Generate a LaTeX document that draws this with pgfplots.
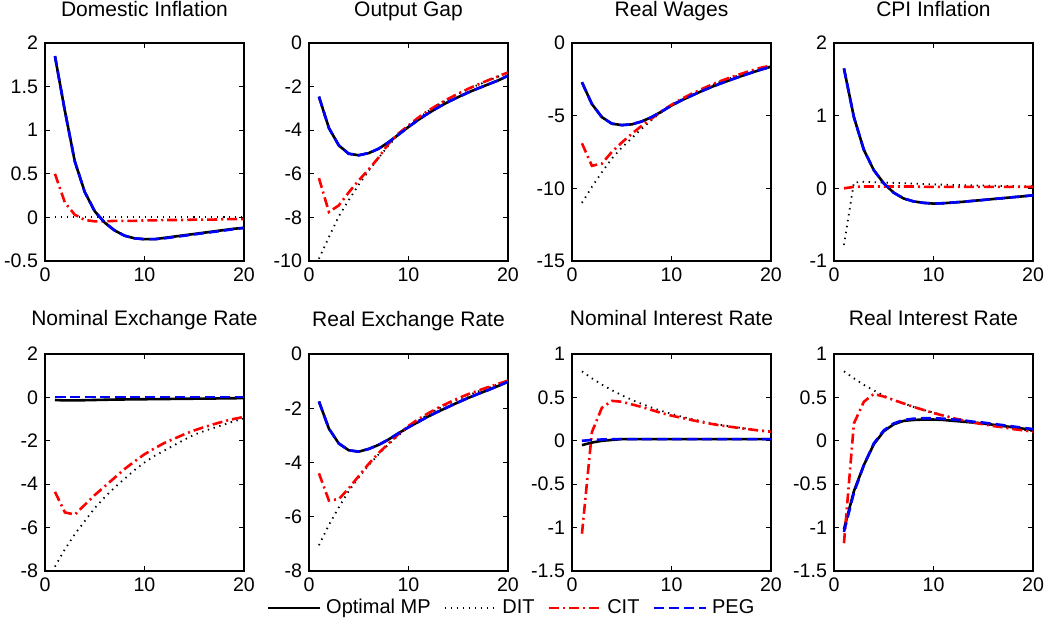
\documentclass[border=0pt]{standalone}
\usepackage{fontspec}
\setmainfont{Liberation Sans}
\usepackage{pgfplots}
\usepackage{pgfplotstable}
\pgfplotsset{compat=1.18}

\pgfplotstableread{
x opt dit cit peg
1 1.85 0 0.50 1.85
2 1.22 0 0.17 1.22
3 0.64 0 0.03 0.64
4 0.29 0 -0.03 0.29
5 0.07 0 -0.045 0.07
6 -0.06 0 -0.045 -0.06
7 -0.15 0 -0.04 -0.15
8 -0.21 0 -0.04 -0.21
9 -0.24 0 -0.04 -0.24
10 -0.25 0 -0.035 -0.25
11 -0.25 0 -0.035 -0.25
12 -0.235 0 -0.03 -0.24
13 -0.22 0 -0.03 -0.225
14 -0.205 0 -0.03 -0.21
15 -0.19 0 -0.025 -0.195
16 -0.175 0 -0.025 -0.18
17 -0.16 0 -0.025 -0.165
18 -0.145 0 -0.02 -0.15
19 -0.13 0 -0.02 -0.135
20 -0.12 0 -0.02 -0.12
}\tabA

\pgfplotstableread{
x opt dit cit peg
1 -2.46 -9.9 -6.2 -2.46
2 -3.9 -8.9 -7.75 -3.9
3 -4.7 -7.95 -7.45 -4.7
4 -5.08 -7.2 -6.85 -5.08
5 -5.15 -6.5 -6.3 -5.15
6 -5.05 -5.86 -5.8 -5.05
7 -4.85 -5.27 -5.25 -4.85
8 -4.55 -4.7 -4.62 -4.55
9 -4.2 -4.2 -4.15 -4.2
10 -3.85 -3.8 -3.78 -3.85
11 -3.52 -3.45 -3.42 -3.52
12 -3.22 -3.12 -3.1 -3.22
13 -2.95 -2.83 -2.82 -2.95
14 -2.7 -2.57 -2.56 -2.7
15 -2.48 -2.33 -2.32 -2.48
16 -2.27 -2.12 -2.1 -2.27
17 -2.08 -1.92 -1.9 -2.08
18 -1.9 -1.73 -1.71 -1.9
19 -1.72 -1.55 -1.53 -1.72
20 -1.5 -1.35 -1.35 -1.5
}\tabB

\pgfplotstableread{
x opt dit cit peg
1 -2.7 -11.0 -6.9 -2.7
2 -4.2 -9.9 -8.45 -4.2
3 -5.1 -8.9 -8.3 -5.1
4 -5.55 -7.95 -7.5 -5.55
5 -5.65 -7.2 -6.85 -5.65
6 -5.6 -6.55 -6.25 -5.6
7 -5.4 -5.9 -5.7 -5.4
8 -5.1 -5.3 -5.2 -5.1
9 -4.72 -4.75 -4.7 -4.72
10 -4.3 -4.28 -4.25 -4.3
11 -3.95 -3.88 -3.85 -3.95
12 -3.63 -3.53 -3.5 -3.63
13 -3.32 -3.22 -3.18 -3.32
14 -3.03 -2.92 -2.88 -3.03
15 -2.77 -2.65 -2.6 -2.77
16 -2.52 -2.4 -2.35 -2.52
17 -2.28 -2.17 -2.12 -2.28
18 -2.05 -1.95 -1.9 -2.05
19 -1.83 -1.75 -1.7 -1.83
20 -1.63 -1.58 -1.55 -1.63
}\tabC

\pgfplotstableread{
x opt dit cit peg
1 1.65 -0.78 0.0 1.65
2 0.98 0.08 0.02 0.98
3 0.53 0.09 0.025 0.53
4 0.25 0.085 0.025 0.25
5 0.07 0.08 0.025 0.07
6 -0.06 0.075 0.025 -0.06
7 -0.14 0.07 0.025 -0.14
8 -0.18 0.065 0.025 -0.18
9 -0.2 0.06 0.02 -0.2
10 -0.21 0.055 0.02 -0.21
11 -0.205 0.05 0.02 -0.205
12 -0.195 0.047 0.02 -0.195
13 -0.185 0.044 0.02 -0.185
14 -0.172 0.041 0.02 -0.172
15 -0.16 0.038 0.02 -0.16
16 -0.147 0.035 0.02 -0.147
17 -0.135 0.033 0.02 -0.135
18 -0.122 0.031 0.02 -0.122
19 -0.11 0.029 0.02 -0.11
20 -0.095 0.027 0.02 -0.095
}\tabD

\pgfplotstableread{
x opt dit cit peg
1 -0.12 -7.8 -4.35 0.02
2 -0.14 -7.0 -5.3 0.02
3 -0.14 -6.3 -5.4 0.02
4 -0.13 -5.7 -4.95 0.02
5 -0.12 -5.1 -4.5 0.02
6 -0.11 -4.6 -4.1 0.02
7 -0.1 -4.15 -3.7 0.02
8 -0.095 -3.75 -3.3 0.02
9 -0.09 -3.35 -2.95 0.02
10 -0.085 -3.0 -2.62 0.02
11 -0.08 -2.7 -2.35 0.02
12 -0.075 -2.45 -2.1 0.02
13 -0.07 -2.2 -1.9 0.02
14 -0.065 -1.95 -1.7 0.02
15 -0.06 -1.72 -1.52 0.02
16 -0.055 -1.55 -1.37 0.02
17 -0.05 -1.4 -1.23 0.02
18 -0.045 -1.25 -1.1 0.02
19 -0.04 -1.1 -0.99 0.02
20 -0.03 -0.97 -0.9 0.02
}\tabE

\pgfplotstableread{
x opt dit cit peg
1 -1.75 -7.05 -4.4 -1.75
2 -2.75 -6.3 -5.4 -2.75
3 -3.3 -5.65 -5.35 -3.3
4 -3.55 -5.05 -4.95 -3.55
5 -3.6 -4.55 -4.5 -3.6
6 -3.5 -4.1 -4.05 -3.5
7 -3.35 -3.7 -3.65 -3.35
8 -3.15 -3.33 -3.3 -3.15
9 -2.92 -3.0 -2.95 -2.92
10 -2.7 -2.7 -2.65 -2.7
11 -2.5 -2.45 -2.4 -2.5
12 -2.3 -2.22 -2.18 -2.3
13 -2.12 -2.02 -1.98 -2.12
14 -1.95 -1.84 -1.8 -1.95
15 -1.78 -1.67 -1.63 -1.78
16 -1.62 -1.52 -1.48 -1.62
17 -1.47 -1.38 -1.35 -1.47
18 -1.33 -1.25 -1.22 -1.33
19 -1.18 -1.12 -1.1 -1.18
20 -1.02 -1.0 -0.98 -1.02
}\tabF

\pgfplotstableread{
x opt dit cit peg
1 -0.05 0.8 -1.07 0.0
2 -0.02 0.72 0.1 0.01
3 0.0 0.648 0.38 0.015
4 0.01 0.583 0.46 0.02
5 0.02 0.525 0.45 0.02
6 0.02 0.472 0.42 0.02
7 0.02 0.425 0.39 0.02
8 0.02 0.383 0.355 0.02
9 0.02 0.344 0.32 0.02
10 0.02 0.31 0.29 0.02
11 0.02 0.279 0.265 0.02
12 0.02 0.251 0.24 0.02
13 0.02 0.226 0.215 0.02
14 0.02 0.203 0.195 0.02
15 0.02 0.183 0.175 0.02
16 0.02 0.165 0.16 0.02
17 0.02 0.148 0.145 0.02
18 0.02 0.133 0.13 0.02
19 0.02 0.12 0.115 0.02
20 0.02 0.108 0.105 0.02
}\tabG

\pgfplotstableread{
x opt dit cit peg
1 -1.02 0.8 -1.18 -1.05
2 -0.58 0.72 0.2 -0.6
3 -0.28 0.645 0.45 -0.28
4 -0.04 0.58 0.54 -0.03
5 0.11 0.52 0.51 0.12
6 0.19 0.47 0.47 0.2
7 0.23 0.43 0.43 0.24
8 0.24 0.39 0.39 0.255
9 0.245 0.355 0.355 0.26
10 0.245 0.325 0.32 0.26
11 0.24 0.295 0.29 0.255
12 0.23 0.265 0.26 0.245
13 0.22 0.24 0.235 0.235
14 0.21 0.215 0.21 0.22
15 0.2 0.195 0.19 0.21
16 0.185 0.175 0.17 0.195
17 0.17 0.16 0.155 0.18
18 0.155 0.14 0.135 0.165
19 0.14 0.125 0.12 0.15
20 0.125 0.11 0.105 0.135
}\tabH

\pgfplotsset{
  irf/.style={
    scale only axis, width=99.5pt, anchor=south west,
    xmin=0, xmax=20, xtick={0,10,20},
    tick align=inside, major tick length=2.5pt,
    axis line style={line width=0.6pt},
    every tick/.style={black, line width=0.5pt},
    ticklabel style={font=\fontsize{9.8}{11}\selectfont},
    /pgf/number format/assume math mode=true,
    scaled y ticks=false,
    yticklabel style={/pgf/number format/fixed},
    title style={font=\fontsize{10.5}{12}\selectfont, at={(0.5,1)}, anchor=base},
  },
  toprow/.style={height=109pt, title style={yshift=7pt}},
  botrow/.style={height=108.5pt, title style={yshift=8pt}},
  opt/.style={black, line width=1.3pt},
  dit/.style={black, line width=0.9pt, dash pattern=on 0.7pt off 2.3pt},
  cit/.style={red, line width=1.3pt, dash pattern=on 5pt off 2pt on 1pt off 2pt},
  peg/.style={blue, line width=1.3pt, dash pattern=on 5pt off 2.5pt},
}

\newcommand\fourlines[1]{%
  \addplot[opt] table[x=x,y=opt]{#1};
  \addplot[dit] table[x=x,y=dit]{#1};
  \addplot[cit] table[x=x,y=cit]{#1};
  \addplot[peg] table[x=x,y=peg]{#1};
}

\begin{document}
\begin{tikzpicture}
\useasboundingbox (0,0) rectangle (523pt,-315pt);

% top row
\begin{axis}[irf, toprow, at={(22.5pt,-130.5pt)}, title={Domestic Inflation},
  ymin=-0.5, ymax=2, ytick={-0.5,0,0.5,1,1.5,2}]
\fourlines{\tabA}
\end{axis}
\begin{axis}[irf, toprow, at={(154.5pt,-130.5pt)}, title={Output Gap},
  ymin=-10, ymax=0, ytick={-10,-8,-6,-4,-2,0}]
\fourlines{\tabB}
\end{axis}
\begin{axis}[irf, toprow, at={(286pt,-130.5pt)}, title={Real Wages},
  ymin=-15, ymax=0, ytick={-15,-10,-5,0}]
\fourlines{\tabC}
\end{axis}
\begin{axis}[irf, toprow, at={(417pt,-130.5pt)}, title={CPI Inflation},
  ymin=-1, ymax=2, ytick={-1,0,1,2}]
\fourlines{\tabD}
\end{axis}

% bottom row
\begin{axis}[irf, botrow, at={(22.5pt,-285.5pt)}, title={Nominal Exchange Rate},
  ymin=-8, ymax=2, ytick={-8,-6,-4,-2,0,2}]
\fourlines{\tabE}
\end{axis}
\begin{axis}[irf, botrow, at={(154.5pt,-285.5pt)}, title={Real Exchange Rate},
  ymin=-8, ymax=0, ytick={-8,-6,-4,-2,0},
  legend columns=4,
  legend image code/.code={\draw[#1] (0pt,0pt) -- (26pt,0pt);},
  legend style={draw=none, fill=none, at={(1.025,-0.17)}, anchor=center,
    font=\fontsize{10}{12}\selectfont,
    nodes={inner xsep=2.5pt},
    /tikz/every even column/.append style={column sep=4pt}}]
\fourlines{\tabF}
\legend{Optimal MP, DIT, CIT, PEG}
\end{axis}
\begin{axis}[irf, botrow, at={(286pt,-285.5pt)}, title={Nominal Interest Rate},
  ymin=-1.5, ymax=1, ytick={-1.5,-1,-0.5,0,0.5,1}]
\fourlines{\tabG}
\end{axis}
\begin{axis}[irf, botrow, at={(417pt,-285.5pt)}, title={Real Interest Rate},
  ymin=-1.5, ymax=1, ytick={-1.5,-1,-0.5,0,0.5,1}]
\fourlines{\tabH}
\end{axis}
\end{tikzpicture}
\end{document}
